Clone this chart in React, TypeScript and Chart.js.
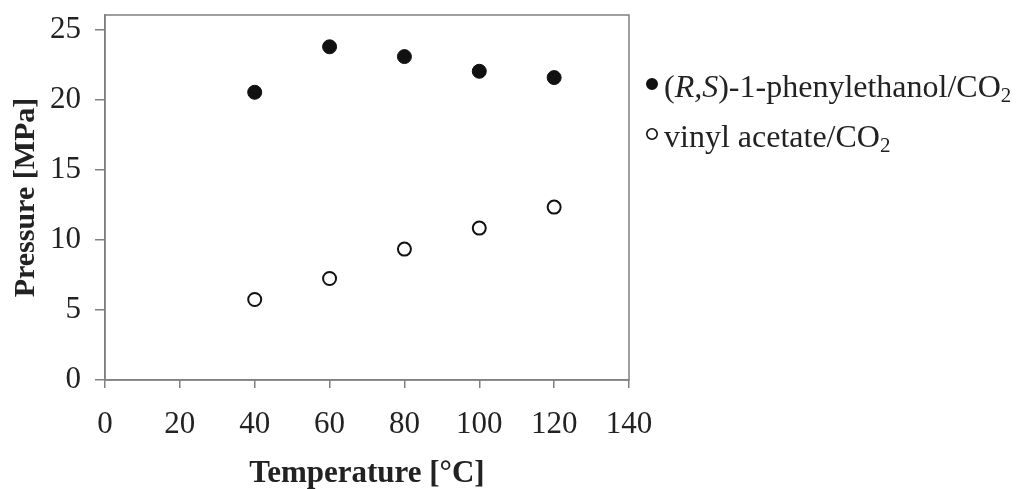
import React, { useEffect, useRef } from "react";
import { Chart, registerables } from "chart.js";

Chart.register(...registerables);

const temperatures = [40, 60, 80, 100, 120];
const phenylethanolPressure = [20.55, 23.8, 23.1, 22.05, 21.6];
const vinylAcetatePressure = [5.75, 7.25, 9.35, 10.85, 12.35];

const xTicks = [0, 20, 40, 60, 80, 100, 120, 140];
const yTicks = [0, 5, 10, 15, 20, 25];

const seriesLabels = ["(R,S)-1-phenylethanol/CO₂", "vinyl acetate/CO₂"];
const legendSegments = [
  [
    { t: "(", s: "n" },
    { t: "R,S", s: "i" },
    { t: ")-1-phenylethanol/CO", s: "n" },
    { t: "2", s: "sub" },
  ],
  [
    { t: "vinyl acetate/CO", s: "n" },
    { t: "2", s: "sub" },
  ],
];

const FAMILY = '"Liberation Serif", "Times New Roman", serif';
const TEXT = "#222222";
const AXIS = "#808080";

const framePlugin = {
  id: "frame",
  afterDraw(chart: any) {
    const { ctx, chartArea } = chart;
    ctx.save();
    ctx.strokeStyle = AXIS;
    ctx.lineWidth = 1.5;
    ctx.strokeRect(chartArea.left, chartArea.top, chartArea.right - chartArea.left, chartArea.bottom - chartArea.top);
    ctx.restore();
  },
};

const legendPlugin = {
  id: "richLegend",
  afterDraw(chart: any) {
    const ctx = chart.ctx;
    const markerX = 652;
    const textX = 664;
    const baselines = [97, 147];
    ctx.save();
    chart.data.datasets.forEach((ds: any, i: number) => {
      const base = baselines[i];
      ctx.beginPath();
      ctx.arc(markerX, base - 13, 5.2, 0, Math.PI * 2);
      ctx.fillStyle = ds.backgroundColor;
      ctx.fill();
      ctx.lineWidth = 1.6;
      ctx.strokeStyle = ds.borderColor;
      ctx.stroke();
      let x = textX;
      ctx.fillStyle = TEXT;
      ctx.textBaseline = "alphabetic";
      ctx.textAlign = "left";
      for (const seg of legendSegments[i]) {
        let y = base;
        if (seg.s === "i") ctx.font = `italic 32px ${FAMILY}`;
        else if (seg.s === "sub") {
          ctx.font = `21px ${FAMILY}`;
          y = base + 5;
        } else ctx.font = `32px ${FAMILY}`;
        ctx.fillText(seg.t, x, y);
        x += ctx.measureText(seg.t).width;
      }
    });
    ctx.restore();
  },
};

export default function App() {
  const ref = useRef<HTMLCanvasElement>(null);
  useEffect(() => {
    if (!ref.current) return;
    const chart = new Chart(ref.current, {
      type: "scatter",
      data: {
        datasets: [
          {
            label: seriesLabels[0],
            data: temperatures.map((t, i) => ({ x: t, y: phenylethanolPressure[i] })),
            backgroundColor: "#111111",
            borderColor: "#111111",
            borderWidth: 1,
            pointRadius: 7,
          },
          {
            label: seriesLabels[1],
            data: temperatures.map((t, i) => ({ x: t, y: vinylAcetatePressure[i] })),
            backgroundColor: "#ffffff",
            borderColor: "#111111",
            borderWidth: 2,
            pointRadius: 6.5,
          },
        ],
      },
      options: {
        animation: false,
        responsive: false,
        devicePixelRatio: 1,
        layout: { padding: { top: 15, right: 393, left: 0, bottom: 0 } },
        plugins: { legend: { display: false }, tooltip: { enabled: false } },
        scales: {
          x: {
            type: "linear",
            min: 0,
            max: 140,
            afterFit: (s: any) => {
              s.height = 109;
              s.paddingLeft = 0;
              s.paddingRight = 0;
            },
            afterBuildTicks: (s: any) => {
              s.ticks = xTicks.map((v) => ({ value: v }));
            },
            grid: {
              drawOnChartArea: false,
              drawTicks: true,
              tickLength: 8,
              color: AXIS,
              lineWidth: 1.5,
            },
            border: { display: true, color: AXIS, width: 1.5 },
            ticks: {
              padding: 18,
              color: TEXT,
              font: { family: FAMILY, size: 31, lineHeight: 1.2 },
              maxRotation: 0,
            },
            title: {
              display: true,
              text: "Temperature [°C]",
              color: TEXT,
              font: { family: FAMILY, size: 31, weight: "bold", lineHeight: 1 },
              padding: { top: 0, bottom: 0 },
            },
          },
          y: {
            type: "linear",
            min: 0,
            max: 26.07,
            afterFit: (s: any) => {
              s.width = 105;
              s.paddingTop = 0;
              s.paddingBottom = 0;
            },
            afterBuildTicks: (s: any) => {
              s.ticks = yTicks.map((v) => ({ value: v }));
            },
            grid: {
              drawOnChartArea: false,
              drawTicks: true,
              tickLength: 10,
              color: AXIS,
              lineWidth: 1.5,
            },
            border: { display: true, color: AXIS, width: 1.5 },
            ticks: {
              padding: 14,
              color: TEXT,
              font: { family: FAMILY, size: 31, lineHeight: 1.2 },
            },
            title: {
              display: true,
              text: "Pressure [MPa]",
              color: TEXT,
              font: { family: FAMILY, size: 30, weight: "bold", lineHeight: 1 },
              padding: { top: 11, bottom: 0 },
            },
          },
        },
      },
      plugins: [framePlugin, legendPlugin],
    } as any);
    return () => chart.destroy();
  }, []);
  return (
    <div style={{ position: "absolute", left: 0, top: 0, width: 1022, height: 489, background: "#fff" }}>
      <canvas ref={ref} width={1022} height={489} style={{ display: "block", width: 1022, height: 489 }} />
    </div>
  );
}
